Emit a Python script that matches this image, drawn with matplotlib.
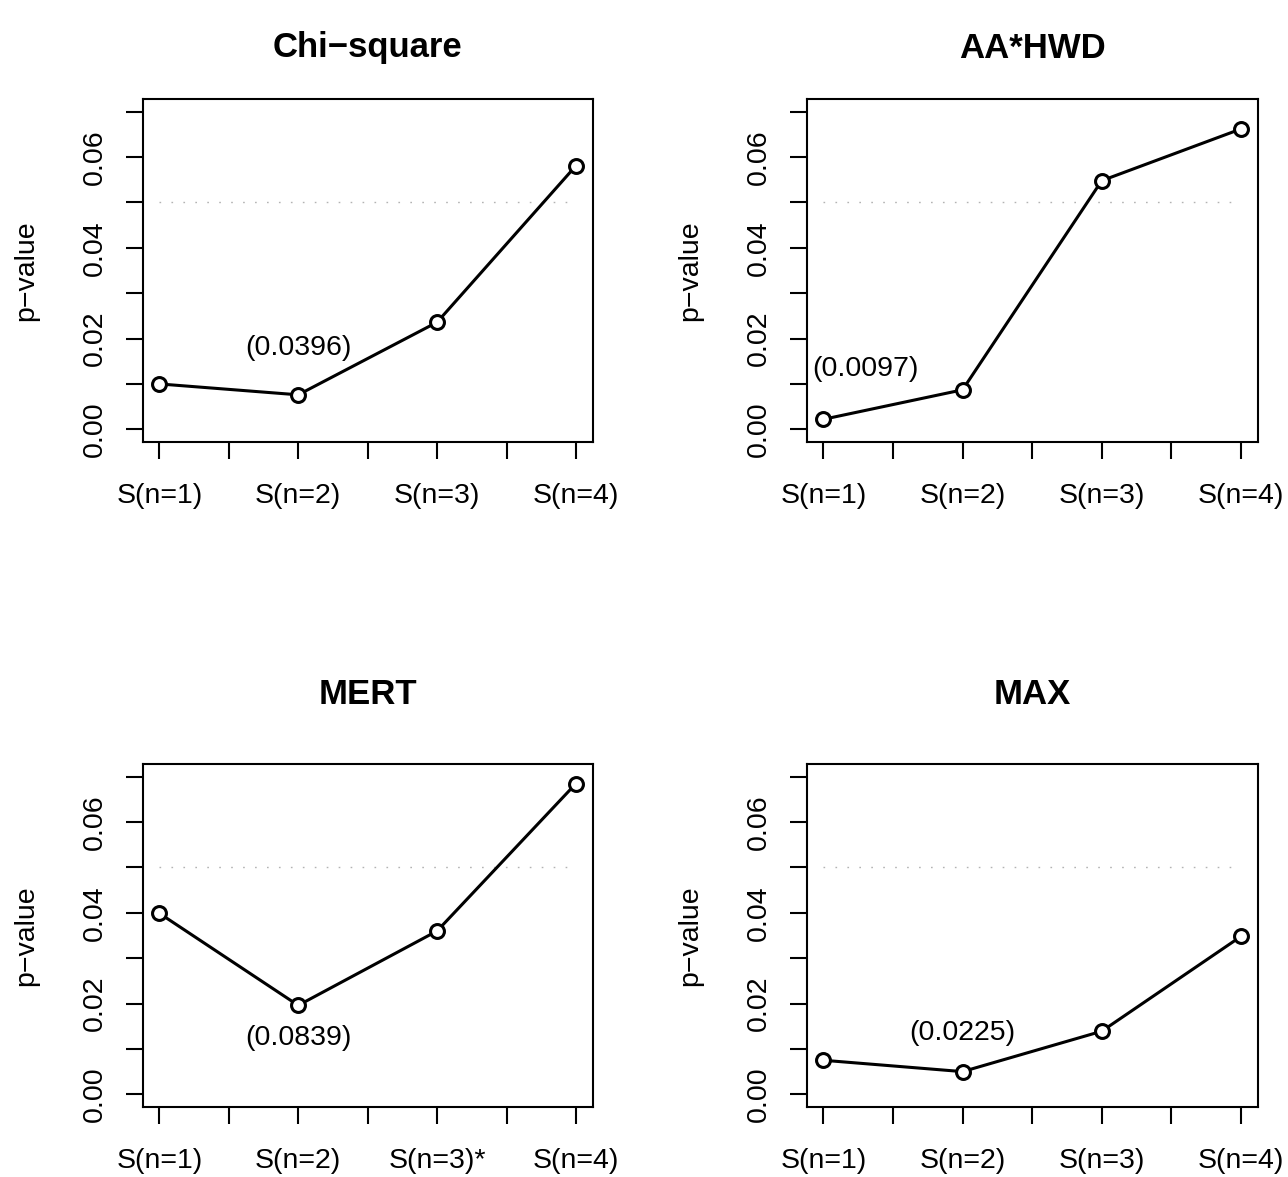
import numpy as np
import matplotlib
matplotlib.use('Agg')
import matplotlib.pyplot as plt

plt.rcParams['font.family'] = ['Liberation Sans', 'DejaVu Sans']

# p-values, one array per test
titles = ['Chi\u2212square', 'AA*HWD', 'MERT', 'MAX']
chi_square = [0.0100, 0.0076, 0.0236, 0.0581]
aa_hwd = [0.0022, 0.0087, 0.0548, 0.0662]
mert = [0.0399, 0.0196, 0.0360, 0.0685]
max_test = [0.0075, 0.0050, 0.0139, 0.0348]

x_pos = [1, 3, 5, 7]
tick_labels = ['S(n=1)', '', 'S(n=2)', '', 'S(n=3)', '', 'S(n=4)']
tick_labels_mert = ['S(n=1)', '', 'S(n=2)', '', 'S(n=3)*', '', 'S(n=4)']

# bracketed notes and where they sit
notes = ['(0.0396)', '(0.0097)', '(0.0839)', '(0.0225)']
note_x = [3.0, 1.6, 3.0, 3.0]
note_y = [0.0180, 0.0132, 0.0123, 0.0134]

alpha = 0.05
yticks = np.arange(0, 0.0701, 0.01)
ylabels = ['0.00', '', '0.02', '', '0.04', '', '0.06', '']

W, H = 1288, 1177
fig = plt.figure(figsize=(W / 100, H / 100), dpi=100)

# panel boxes in pixels: left, top, right, bottom
boxes = [(143, 99, 593, 442), (807, 99, 1258, 442),
         (143, 764, 593, 1107), (807, 764, 1258, 1107)]
series = [chi_square, aa_hwd, mert, max_test]
fs = 20.5

for i, (l, t, r, b) in enumerate(boxes):
    ax = fig.add_axes([l / W, 1 - b / H, (r - l) / W, (b - t) / H])
    ax.plot([1, 7], [alpha, alpha], color='#b3b3b3', lw=1,
            linestyle=(0, (1.2, 7.4)))
    ax.plot(x_pos, series[i], color='black', lw=2.2, marker='o',
            markersize=10, markerfacecolor='white', markeredgewidth=2.2)
    ax.text(note_x[i], note_y[i], notes[i], ha='center', va='center',
            fontsize=fs)
    ax.set_xlim(0.765, 7.245)
    ax.set_ylim(-0.0028, 0.0728)
    ax.set_xticks(range(1, 8))
    ax.set_xticklabels(tick_labels_mert if i == 2 else tick_labels, fontsize=fs)
    ax.set_yticks(yticks)
    ax.set_yticklabels(ylabels, fontsize=fs, rotation=90, va='center')
    ax.tick_params(axis='x', length=12.5, width=1.5, pad=17)
    ax.tick_params(axis='y', length=12, width=1.5, pad=13)
    for sp in ax.spines.values():
        sp.set_linewidth(1.5)
    ax.set_ylabel('p\u2212value', fontsize=fs, va='center')
    ax.yaxis.set_label_coords(-117 / (r - l), 0.5)
    gap = 51 if i < 2 else 69
    ax.text(0.5, 1 + gap / (b - t), titles[i], transform=ax.transAxes,
            ha='center', va='center', fontsize=25, fontweight='bold')

fig.savefig('out.png', dpi=100)
